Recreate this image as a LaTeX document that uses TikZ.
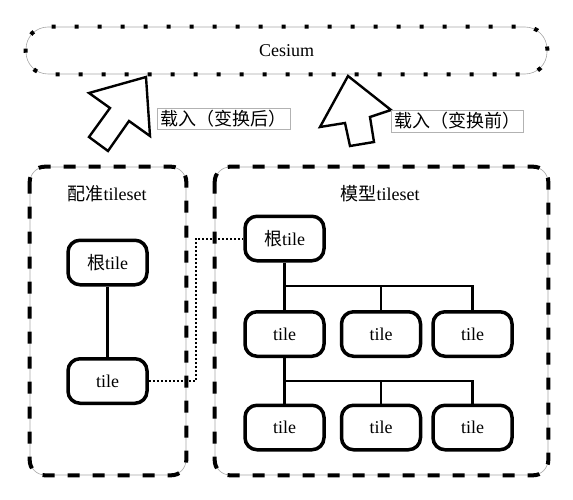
\documentclass[tikz,border=0pt]{standalone}
\usepackage{fontspec}
\setmainfont{Liberation Serif}
\newfontfamily\cjk{Noto Sans CJK SC}
\usetikzlibrary{calc}
\begin{document}
\begin{tikzpicture}[x=1pt,y=-1pt,
  tilebox/.style={draw, line width=3.5pt, rounded corners=12pt, minimum width=79pt,
    minimum height=44.5pt, inner sep=0pt, fill=white, font=\fontsize{18}{20}\selectfont},
  grayedge/.style={draw=black!35, line width=0.6pt},
  contdash/.style={line width=4pt, dash pattern=on 12pt off 13pt, rounded corners=15pt},
  cesdots/.style={line width=4pt, dash pattern=on 4pt off 19pt, rounded corners=22pt},
  contlabel/.style={inner sep=0pt, font=\fontsize{18}{20}\selectfont},
  loadlabel/.style={draw=black!30, line width=0.5pt, fill=white, inner sep=0pt,
    font=\fontsize{18}{20}\selectfont},
  treeline/.style={line width=2.2pt},
  dotconn/.style={line width=2pt, dash pattern=on 2pt off 2pt},
  blockarrow/.style={draw, fill=white, line width=2.4pt, line join=miter}
]
\useasboundingbox (0,0) rectangle (573,500);

% Cesium box
\node[grayedge, rounded corners=22pt, minimum width=521pt, minimum height=47pt,
  inner sep=0pt, font=\fontsize{18}{20}\selectfont] (cesium) at (286.5,50.5) {Cesium};
\draw[cesdots] (cesium.north west) rectangle (cesium.south east);

% containers
\node[grayedge, rounded corners=15pt, minimum width=156pt, minimum height=308pt,
  inner sep=0pt] (lcont) at (108,321) {};
\draw[contdash] (lcont.north west) rectangle (lcont.south east);
\node[grayedge, rounded corners=15pt, minimum width=333pt, minimum height=308pt,
  inner sep=0pt] (rcont) at (381.5,321) {};
\draw[contdash] (rcont.north west) rectangle (rcont.south east);

\node[contlabel] (llab) at (107,194) {{\cjk 配准}tileset};
\node[contlabel] (rlab) at (380,194) {{\cjk 模型}tileset};

% block arrows
\draw[blockarrow] (146,77) -- (89,93) -- (110,108) -- (89,137) -- (108,151) -- (129,121) -- (150,136) -- cycle;
\draw[blockarrow] (348,76) -- (320,127) -- (345,123) -- (350,146) -- (374,142) -- (370,117) -- (391,110) -- cycle;

% load labels
\node[loadlabel, minimum width=133pt, minimum height=21pt] (load1) at (223.5,118.5) {\cjk 载入（变换后）};
\node[loadlabel, minimum width=132pt, minimum height=22pt] (load2) at (457,121) {\cjk 载入（变换前）};

% left tree
\node[tilebox] (lroot) at (107.5,262.5) {{\cjk 根}tile};
\node[tilebox] (ltile) at (107.5,381) {tile};
\draw[treeline] (lroot.south) -- (ltile.north);

% right tree
\node[tilebox] (rroot) at (284.5,238.5) {{\cjk 根}tile};
\node[tilebox] (a1) at (284.5,334) {tile};
\node[tilebox] (a2) at (381,334) {tile};
\node[tilebox] (a3) at (472.5,334) {tile};
\node[tilebox] (b1) at (284.5,427.5) {tile};
\node[tilebox] (b2) at (381,427.5) {tile};
\node[tilebox] (b3) at (472.5,427.5) {tile};

\coordinate (j1) at ($(rroot.south)!0.5!(a1.north)$);
\coordinate (j2) at ($(a1.south)!0.5!(b1.north)$);
\draw[treeline] (rroot.south) -- (a1.north);
\draw[treeline] (a3.north) |- (j1);
\draw[treeline] (a2.north) -- (a2.north |- j1);
\draw[treeline] (a1.south) -- (b1.north);
\draw[treeline] (b3.north) |- (j2);
\draw[treeline] (b2.north) -- (b2.north |- j2);

% dotted link
\draw[dotconn] (ltile.east) -- ++(47,0) |- (rroot.west);
\end{tikzpicture}
\end{document}
